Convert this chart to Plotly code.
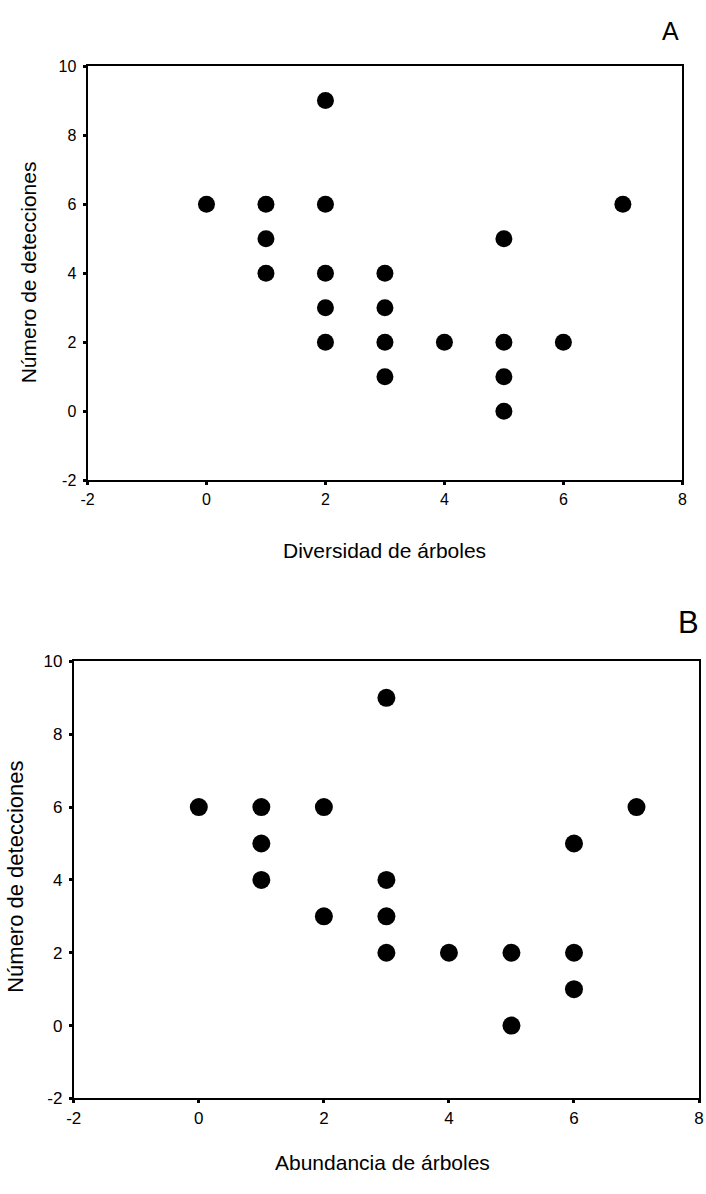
import plotly.graph_objects as go

# Panel A: Diversidad de árboles vs Número de detecciones
div_x = [0, 1, 1, 1, 2, 2, 2, 2, 2, 3, 3, 3, 3, 4, 5, 5, 5, 5, 6, 7]
div_y = [6, 6, 5, 4, 9, 6, 4, 3, 2, 4, 3, 2, 1, 2, 5, 2, 1, 0, 2, 6]

# Panel B: Abundancia de árboles vs Número de detecciones
abu_x = [0, 1, 1, 1, 2, 2, 3, 3, 3, 3, 4, 5, 5, 6, 6, 6, 7]
abu_y = [6, 6, 5, 4, 6, 3, 9, 4, 3, 2, 2, 2, 0, 5, 2, 1, 6]

x_ticks = [-2, 0, 2, 4, 6, 8]
y_ticks = [-2, 0, 2, 4, 6, 8, 10]

W, H = 706, 1194
FONT = "Liberation Sans, Arial, sans-serif"

fig = go.Figure()
fig.add_trace(go.Scatter(x=div_x, y=div_y, mode="markers", xaxis="x", yaxis="y",
                         marker=dict(color="black", size=17), showlegend=False))
fig.add_trace(go.Scatter(x=abu_x, y=abu_y, mode="markers", xaxis="x2", yaxis="y2",
                         marker=dict(color="black", size=18), showlegend=False))

def ax(domain, rng, ticks, anchor, fs, standoff):
    return dict(domain=domain, range=rng, tickvals=ticks, ticktext=[str(t) for t in ticks],
                showline=True, linecolor="black", linewidth=2, mirror=True,
                ticks="outside", ticklen=3, tickwidth=3, tickcolor="black",
                showgrid=False, zeroline=False, anchor=anchor,
                ticklabelstandoff=standoff,
                tickfont=dict(family=FONT, size=fs, color="black"))

fig.update_layout(
    width=W, height=H, margin=dict(l=0, r=0, t=0, b=0),
    paper_bgcolor="white", plot_bgcolor="white",
    font=dict(family=FONT, color="black"),
    xaxis=ax([81 / W, 687 / W], [-2, 8], x_ticks, "y", 16, 0),
    yaxis=ax([1 - 479 / H, 1 - 58 / H], [-2, 10], y_ticks, "x", 16, 3),
    xaxis2=ax([67 / W, 704 / W], [-2, 8], x_ticks, "y2", 17, 0),
    yaxis2=ax([1 - 1107 / H, 1 - 663 / H], [-2, 10], y_ticks, "x2", 17, 3),
)

def ann(text, x, y, size, angle=0):
    return dict(text=text, x=x / W, y=1 - y / H, xref="paper", yref="paper",
                showarrow=False, xanchor="center", yanchor="middle", textangle=angle,
                font=dict(family=FONT, size=size, color="black"))

fig.update_layout(annotations=[
    ann("A", 675, 22, 25),
    ann("B", 693, 623, 31),
    ann("Diversidad de árboles", 384, 550, 21),
    ann("Abundancia de árboles", 382, 1172, 21),
    ann("Número de detecciones", 21, 268, 21, -90),
    ann("Número de detecciones", 8, 882, 22, -90),
])

fig.write_html("out.html")
